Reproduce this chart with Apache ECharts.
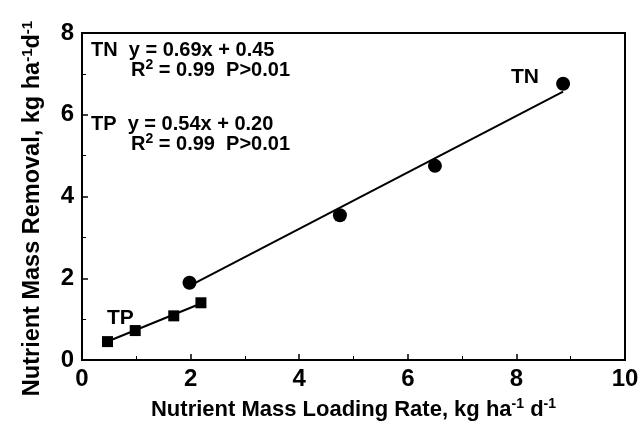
<!DOCTYPE html>
<html><head><meta charset="utf-8">
<script src="https://cdn.jsdelivr.net/npm/echarts@6/dist/echarts.min.js"></script>
<style>html,body{margin:0;padding:0;background:#fff}#c{width:643px;height:427px}</style>
</head><body><div id="c"></div>
<script>
// Data
const tnX = [1.98, 4.75, 6.50, 8.86];
const tnY = [1.89, 3.54, 4.75, 6.76];
const tpX = [0.47, 0.98, 1.69, 2.19];
const tpY = [0.45, 0.72, 1.08, 1.40];
// Regression lines: [slope, intercept] and x extent
const tnFit = [0.69, 0.45]; const tnFitX = [1.98, 8.86];
const tpFit = [0.54, 0.20]; const tpFitX = [0.47, 2.19];
const xTicks = [0, 2, 4, 6, 8, 10];
const yTicks = [0, 2, 4, 6, 8];

const FONT = 'Liberation Sans, Arial, sans-serif';
const pair = (xs, ys) => xs.map((x, i) => [x, ys[i]]);
const fitLine = (c, xs) => xs.map(x => [x, c[0] * x + c[1]]);

const chart = echarts.init(document.getElementById('c'), null, {renderer: 'canvas'});
const mkRich = (big, small, lh) => ({
  b: {fontSize: big, fontWeight: 'bold', fontFamily: FONT, color: '#000', lineHeight: lh},
  s: {fontSize: small, fontWeight: 'bold', fontFamily: FONT, color: '#000', verticalAlign: 'top', lineHeight: lh}
});
const annRich = {
  a: {font: 'bold 20px ' + FONT, fill: '#000', lineHeight: 24},
  s: {font: 'bold 14px ' + FONT, fill: '#000', verticalAlign: 'top', lineHeight: 24}
};
chart.setOption({
  animation: false,
  backgroundColor: '#fff',
  grid: {left: 82, right: 18, top: 33, bottom: 67, show: true, borderColor: '#000', borderWidth: 2},
  xAxis: {
    type: 'value', min: xTicks[0], max: xTicks[xTicks.length - 1], interval: 2,
    axisLine: {lineStyle: {color: '#000', width: 2}},
    axisTick: {inside: true, length: 6, lineStyle: {color: '#000', width: 1.5}},
    minorTick: {show: true, splitNumber: 2, length: 4, lineStyle: {color: '#000'}},
    splitLine: {show: false},
    axisLabel: {fontSize: 24, fontWeight: 'bold', fontFamily: FONT, color: '#000', margin: 7},
    name: '{b|Nutrient Mass Loading Rate, kg ha}{s|-1}{b| d}{s|-1}',
    nameLocation: 'middle', nameGap: 37,
    nameTextStyle: {rich: mkRich(22, 14, 26)}
  },
  yAxis: {
    type: 'value', min: yTicks[0], max: yTicks[yTicks.length - 1], interval: 2,
    axisLine: {lineStyle: {color: '#000', width: 2}},
    axisTick: {inside: true, length: 6, lineStyle: {color: '#000', width: 1.5}},
    minorTick: {show: true, splitNumber: 2, length: 4, lineStyle: {color: '#000'}},
    splitLine: {show: false},
    axisLabel: {fontSize: 24, fontWeight: 'bold', fontFamily: FONT, color: '#000', margin: 8},
    name: '{b|Nutrient Mass Removal, kg ha}{s|-1}{b|d}{s|-1}',
    nameLocation: 'middle', nameGap: 36, nameRotate: 90,
    nameTextStyle: {rich: mkRich(23.5, 15, 26), padding: [0, 24, 0, 0]}
  },
  series: [
    {type: 'line', data: fitLine(tnFit, tnFitX), symbol: 'none', lineStyle: {color: '#000', width: 2}, z: 2},
    {type: 'line', data: fitLine(tpFit, tpFitX), symbol: 'none', lineStyle: {color: '#000', width: 2}, z: 2},
    {type: 'scatter', data: pair(tnX, tnY), symbol: 'circle', symbolSize: 14, itemStyle: {color: '#000', opacity: 1}, z: 3},
    {type: 'scatter', data: pair(tpX, tpY), symbol: 'rect', symbolSize: 11, itemStyle: {color: '#000', opacity: 1}, z: 3}
  ],
  graphic: [
    {type: 'text', left: 91, top: 40, style: {text: 'TN  y = 0.69x + 0.45', font: 'bold 20px ' + FONT, fill: '#000'}},
    {type: 'text', left: 131, top: 58, style: {text: '{a|R}{s|2}{a| = 0.99  P>0.01}', rich: annRich}},
    {type: 'text', left: 91, top: 114, style: {text: 'TP  y = 0.54x + 0.20', font: 'bold 20px ' + FONT, fill: '#000'}},
    {type: 'text', left: 131, top: 132, style: {text: '{a|R}{s|2}{a| = 0.99  P>0.01}', rich: annRich}},
    {type: 'text', left: 511, top: 67, style: {text: 'TN', font: 'bold 21px ' + FONT, fill: '#000'}},
    {type: 'text', left: 107, top: 308, style: {text: 'TP', font: 'bold 21px ' + FONT, fill: '#000'}}
  ]
});
</script></body></html>
